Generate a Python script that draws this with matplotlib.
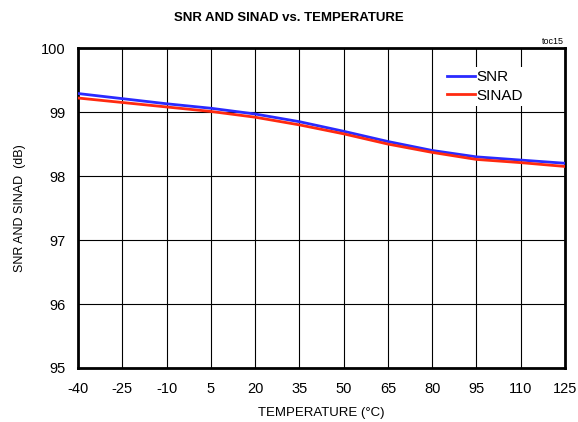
import matplotlib
matplotlib.use("Agg")
import matplotlib.pyplot as plt

plt.rcParams['font.family'] = ['Liberation Sans', 'DejaVu Sans']
plt.rcParams['axes.unicode_minus'] = False

temperature = [-40, -25, -10, 5, 20, 35, 50, 65, 80, 95, 110, 125]
snr = [99.29, 99.21, 99.13, 99.06, 98.97, 98.85, 98.70, 98.54, 98.40, 98.30, 98.25, 98.20]
sinad = [99.22, 99.15, 99.08, 99.01, 98.92, 98.80, 98.66, 98.50, 98.37, 98.26, 98.21, 98.15]
xticks = [-40, -25, -10, 5, 20, 35, 50, 65, 80, 95, 110, 125]
yticks = [95, 96, 97, 98, 99, 100]

fig = plt.figure(figsize=(5.78, 4.22), dpi=100)
ax = fig.add_axes([0.135, 0.128, 0.8425, 0.758])

ax.plot(temperature, snr, color='#2a2aff', lw=2.0, label='SNR', zorder=3)
ax.plot(temperature, sinad, color='#ff2a10', lw=2.0, label='SINAD', zorder=3)

ax.set_xlim(-40, 125)
ax.set_ylim(95, 100)
ax.set_xticks(xticks)
ax.set_yticks(yticks)
ax.tick_params(length=0, labelsize=10.5)
ax.tick_params(axis='x', pad=10)
ax.tick_params(axis='y', pad=9)
ax.grid(True, color='black', lw=0.8)
for s in ax.spines.values():
    s.set_linewidth(2.0)
    s.set_color('black')

ax.set_xlabel('TEMPERATURE (°C)', fontsize=9.5, labelpad=8)
ax.set_ylabel('SNR AND SINAD  (dB)', fontsize=9, labelpad=11)
fig.text(0.5, 0.957, 'SNR AND SINAD vs. TEMPERATURE', fontsize=9.5, fontweight='bold',
         ha='center', va='center')
fig.text(0.975, 0.892, 'toc15', fontsize=6.5, ha='right', va='bottom')

leg = ax.legend(loc='upper right', bbox_to_anchor=(0.935, 0.965), frameon=True, fontsize=11,
                handlelength=1.8, handletextpad=0.1, borderpad=0.2, labelspacing=0.3,
                fancybox=False)
leg.get_frame().set_edgecolor('none')
leg.get_frame().set_facecolor('white')
leg.get_frame().set_alpha(1)

fig.savefig('out.png', dpi=100)
